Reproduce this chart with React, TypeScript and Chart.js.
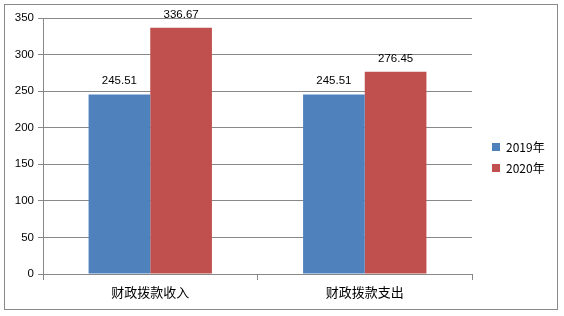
import React, { useEffect, useRef } from "react";
import { Chart, registerables } from "chart.js";

Chart.register(...registerables);

const categories = ["财政拨款收入", "财政拨款支出"];
const seriesNames = ["2019年", "2020年"];
const values2019 = [245.51, 245.51];
const values2020 = [336.67, 276.45];
const seriesColors = ["#4F81BD", "#C0504D"];
const yMax = 350;
const yStep = 50;

const GRID = "#888888";
const LATIN = "'Liberation Sans', 'DejaVu Sans', sans-serif";
const CJK = "'Noto Sans CJK SC', 'Liberation Sans', sans-serif";

export default function App() {
  const ref = useRef<HTMLCanvasElement | null>(null);

  useEffect(() => {
    document.body.style.margin = "0";
    const canvas = ref.current;
    if (!canvas) return;

    const framePlugin = {
      id: "frame",
      beforeDraw(chart: any) {
        const ctx = chart.ctx;
        ctx.save();
        ctx.fillStyle = "#ffffff";
        ctx.fillRect(0, 0, chart.width, chart.height);
        ctx.strokeStyle = GRID;
        ctx.lineWidth = 1;
        ctx.strokeRect(4.5, 4.5, 553, 305);
        ctx.restore();
      },
    };

    const labelPlugin = {
      id: "valueLabels",
      afterDatasetsDraw(chart: any) {
        const ctx = chart.ctx;
        ctx.save();
        ctx.font = `11.5px ${LATIN}`;
        ctx.fillStyle = "#000000";
        ctx.textAlign = "center";
        ctx.textBaseline = "alphabetic";
        chart.data.datasets.forEach((ds: any, i: number) => {
          const meta = chart.getDatasetMeta(i);
          meta.data.forEach((bar: any, j: number) => {
            ctx.fillText(Number(ds.data[j]).toFixed(2), bar.x, bar.y - 10);
          });
        });
        ctx.restore();
      },
    };

    const legendPlugin = {
      id: "sideLegend",
      afterDraw(chart: any) {
        const ctx = chart.ctx;
        ctx.save();
        ctx.textBaseline = "middle";
        ctx.textAlign = "left";
        chart.data.datasets.forEach((ds: any, i: number) => {
          const cy = 146.5 + i * 21.5;
          ctx.fillStyle = ds.backgroundColor;
          ctx.fillRect(492, Math.round(cy - 4), 8, 8);
          ctx.fillStyle = "#000000";
          ctx.font = `12px ${CJK}`;
          ctx.fillText(ds.label, 506, cy + 0.5);
        });
        ctx.restore();
      },
    };

    const chart = new Chart(canvas, {
      type: "bar",
      data: {
        labels: categories,
        datasets: [
          {
            label: seriesNames[0],
            data: values2019,
            backgroundColor: seriesColors[0],
            categoryPercentage: 0.575,
            barPercentage: 1,
          },
          {
            label: seriesNames[1],
            data: values2020,
            backgroundColor: seriesColors[1],
            categoryPercentage: 0.575,
            barPercentage: 1,
          },
        ],
      },
      options: {
        responsive: false,
        animation: false,
        events: [],
        layout: { padding: { left: 0, right: 92, top: 18, bottom: 0 } },
        plugins: {
          legend: { display: false },
          tooltip: { enabled: false },
          title: { display: false },
        },
        scales: {
          x: {
            grid: {
              drawOnChartArea: false,
              drawTicks: true,
              tickLength: 6,
              color: GRID,
              offset: true,
            },
            border: { display: true, color: GRID },
            ticks: {
              color: "#000000",
              font: { family: CJK, size: 13 },
              padding: 4,
              maxRotation: 0,
            },
            afterFit(scale: any) {
              scale.height = 42;
            },
          },
          y: {
            min: 0,
            max: yMax,
            grid: {
              color: GRID,
              tickLength: 5,
              drawTicks: true,
            },
            border: { display: true, color: GRID },
            ticks: {
              stepSize: yStep,
              color: "#000000",
              font: { family: LATIN, size: 11.5 },
              padding: 4,
            },
            afterFit(scale: any) {
              scale.width = 43;
            },
          },
        },
      },
      plugins: [framePlugin, labelPlugin, legendPlugin],
    });

    return () => chart.destroy();
  }, []);

  return (
    <div style={{ position: "fixed", left: 0, top: 0, width: 564, height: 316 }}>
      <canvas ref={ref} width={564} height={316} style={{ display: "block" }} />
    </div>
  );
}
